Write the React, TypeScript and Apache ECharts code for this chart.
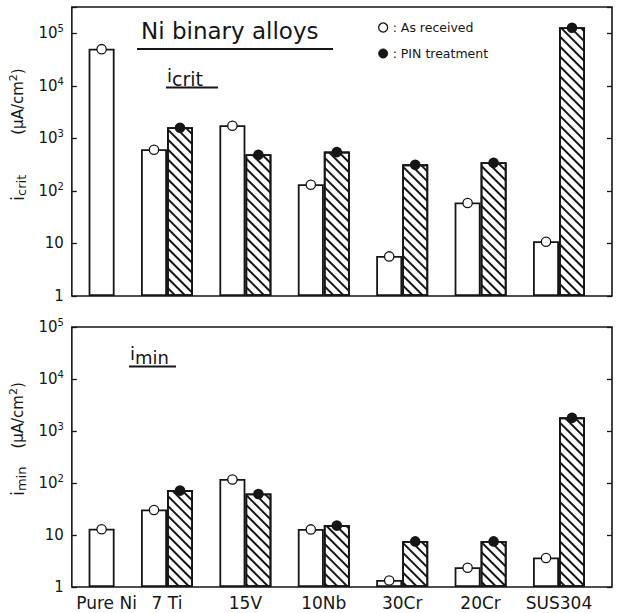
import React, { useEffect, useRef } from 'react';
import * as echarts from 'echarts';

const categories = ['Pure Ni', '7 Ti', '15V', '10Nb', '30Cr', '20Cr', 'SUS304'];
const icritAsReceived = [51000, 620, 1780, 134, 5.8, 60, 11];
const icritPIN = [null, 1630, 500, 560, 320, 350, 130000];
const iminAsReceived = [13.2, 31, 119, 13.1, 1.36, 2.4, 3.7];
const iminPIN = [null, 73, 63, 15.5, 7.7, 7.7, 1830];
const yTickLabels = ['1', '10', '10{sup|2}', '10{sup|3}', '10{sup|4}', '10{sup|5}'];
const TOP_MAX = 316227.77;
const BOTTOM_MAX = 100000;

const INK = '#161616';
const FONT = 'DejaVu Sans';

const hatch = {
  symbol: 'rect',
  symbolSize: 1,
  dashArrayX: [1, 0],
  dashArrayY: [2, 5],
  rotation: Math.PI / 4,
  color: INK,
};

function tickFormatter(v: number) {
  const e = Math.log10(v);
  const r = Math.round(e);
  if (Math.abs(e - r) > 1e-6) return '';
  return yTickLabels[r] ?? '';
}

function dotLabel(fill: string) {
  return {
    show: true,
    position: 'top',
    distance: -4.5,
    formatter: '{c| }',
    rich: {
      c: {
        width: 8,
        height: 8,
        fontSize: 4,
        lineHeight: 8,
        borderRadius: 5,
        backgroundColor: fill,
        borderColor: INK,
        borderWidth: 1.3,
      },
    },
  };
}

function panelSeries(asRec: number[], pin: (number | null)[], xIdx: number, yIdx: number) {
  const asBar = asRec.map((v, i) => (pin[i] == null ? '-' : v));
  const pinBar = pin.map((v, i) =>
    v == null
      ? { value: asRec[i], itemStyle: { color: '#fff' }, label: dotLabel('#fff') }
      : { value: v, itemStyle: { color: '#fff', decal: hatch } }
  );
  const common = { xAxisIndex: xIdx, yAxisIndex: yIdx, barWidth: 26, barGap: '0%', z: 2 };
  return [
    {
      ...common,
      type: 'bar',
      name: 'As received',
      data: asBar,
      itemStyle: { color: '#fff', borderColor: INK, borderWidth: 1.8 },
      label: dotLabel('#fff'),
    },
    {
      ...common,
      type: 'bar',
      name: 'PIN treatment',
      data: pinBar,
      itemStyle: { color: '#fff', borderColor: INK, borderWidth: 1.8 },
      label: dotLabel(INK),
    },
  ];
}

function frameAxes(gridIndex: number, max: number, name: string, gapPad: number, startPad: number) {
  const base = {
    type: 'log',
    gridIndex,
    min: 1,
    max,
    splitLine: { show: false },
    axisLine: { show: false },
    axisTick: { show: true, inside: true, length: 5, lineStyle: { color: INK, width: 1.3 } },
  };
  return [
    {
      ...base,
      position: 'left',
      axisLabel: {
        show: true,
        margin: 8,
        fontFamily: FONT,
        fontSize: 15,
        color: INK,
        formatter: tickFormatter,
        rich: { sup: { fontFamily: FONT, fontSize: 10, color: INK, padding: [0, 0, 9, 0] } },
      },
      name,
      nameLocation: 'middle',
      nameRotate: 90,
      nameGap: 34,
      nameTextStyle: {
        fontFamily: FONT,
        color: INK,
        fontSize: 15,
        rich: {
          i: { fontFamily: FONT, color: INK, fontSize: 17, padding: [0, 0, 0, startPad] },
          s: { fontFamily: FONT, color: INK, fontSize: 13, padding: [7, 0, 0, 0] },
          u0: { fontFamily: FONT, color: INK, fontSize: 15, padding: [0, 0, 0, gapPad] },
          p: { fontFamily: FONT, color: INK, fontSize: 11, padding: [0, 0, 8, 0] },
          u: { fontFamily: FONT, color: INK, fontSize: 15 },
        },
      },
    },
    { ...base, position: 'right', axisLabel: { show: false } },
  ];
}

function hiddenY(gridIndex: number, max: number) {
  return { type: 'log', gridIndex, min: 1, max, show: false, splitLine: { show: false } };
}

export default function App() {
  const ref = useRef<HTMLDivElement>(null);
  useEffect(() => {
    if (!ref.current) return;
    const chart = echarts.init(ref.current, null, { renderer: 'svg' });
    const frameGrid = { show: true, borderColor: INK, borderWidth: 1.6, backgroundColor: 'transparent' };
    const option: any = {
      animation: false,
      backgroundColor: '#fff',
      grid: [
        { ...frameGrid, left: 63, top: 7, width: 549, height: 289 },
        { left: 49.4, top: 7, width: 548.8, height: 289 },
        { ...frameGrid, left: 63, top: 327, width: 549, height: 260 },
        { left: 49.4, top: 327, width: 548.8, height: 260 },
      ],
      xAxis: [
        { type: 'category', gridIndex: 0, data: categories, show: false },
        { type: 'category', gridIndex: 1, data: categories, show: false },
        { type: 'category', gridIndex: 2, data: categories, show: false },
        {
          type: 'category',
          gridIndex: 3,
          data: categories,
          axisLine: { show: false },
          axisTick: { show: false },
          axisLabel: {
            interval: 0,
            margin: 7,
            fontFamily: FONT,
            fontSize: 17,
            color: INK,
            formatter: (v: string, i: number) => (i === 0 ? '{p|' + v + '}' : v),
            rich: { p: { fontFamily: FONT, fontSize: 17, color: INK, padding: [0, 0, 0, 36] } },
          },
        },
      ],
      yAxis: [
        ...frameAxes(0, TOP_MAX, '{i|i}{s|crit}{u0|(μA/cm}{p|2}{u|)}', 40, 34),
        hiddenY(1, TOP_MAX),
        ...frameAxes(2, BOTTOM_MAX, '{i|i}{s|min}{u0|(μA/cm}{p|2}{u|)}', 18, 36),
        hiddenY(3, BOTTOM_MAX),
      ],
      legend: {
        orient: 'vertical',
        left: 373,
        top: 16,
        itemWidth: 9,
        itemHeight: 9,
        itemGap: 13,
        selectedMode: false,
        icon: 'circle',
        formatter: ': {name}',
        textStyle: { fontFamily: FONT, fontSize: 12.5, color: INK },
        data: [
          { name: 'As received', icon: 'circle', itemStyle: { color: '#fff', borderColor: INK, borderWidth: 1.3, decal: 'none' } },
          { name: 'PIN treatment', icon: 'circle', itemStyle: { color: INK, borderColor: INK, borderWidth: 1, decal: 'none' } },
        ],
      },
      graphic: [
        {
          type: 'text',
          style: { text: 'Ni binary alloys', x: 141, y: 31, fontFamily: FONT, fontSize: 23, fill: INK, verticalAlign: 'middle' },
        },
        { type: 'line', shape: { x1: 137, y1: 49, x2: 333, y2: 49 }, style: { stroke: INK, lineWidth: 2 } },
        {
          type: 'text',
          style: {
            text: '{a|i}{b|crit}',
            x: 167,
            y: 79,
            verticalAlign: 'middle',
            rich: {
              a: { fontFamily: FONT, fontSize: 18, fill: INK, padding: [0, 0, 8, 0] },
              b: { fontFamily: FONT, fontSize: 19, fill: INK },
            },
          },
        },
        { type: 'line', shape: { x1: 166, y1: 87.5, x2: 218, y2: 87.5 }, style: { stroke: INK, lineWidth: 2 } },
        {
          type: 'text',
          style: {
            text: '{a|i}{b|min}',
            x: 130,
            y: 357,
            verticalAlign: 'middle',
            rich: {
              a: { fontFamily: FONT, fontSize: 18, fill: INK, padding: [0, 0, 8, 0] },
              b: { fontFamily: FONT, fontSize: 18, fill: INK },
            },
          },
        },
        { type: 'line', shape: { x1: 129, y1: 366.5, x2: 176, y2: 366.5 }, style: { stroke: INK, lineWidth: 2 } },
      ],
      series: [
        ...panelSeries(icritAsReceived, icritPIN, 1, 2),
        ...panelSeries(iminAsReceived, iminPIN, 3, 5),
      ],
    };
    chart.setOption(option);
    return () => chart.dispose();
  }, []);
  return (
    <div
      ref={ref}
      style={{ position: 'fixed', left: 0, top: 0, width: 618, height: 613, background: '#fff' }}
    />
  );
}
